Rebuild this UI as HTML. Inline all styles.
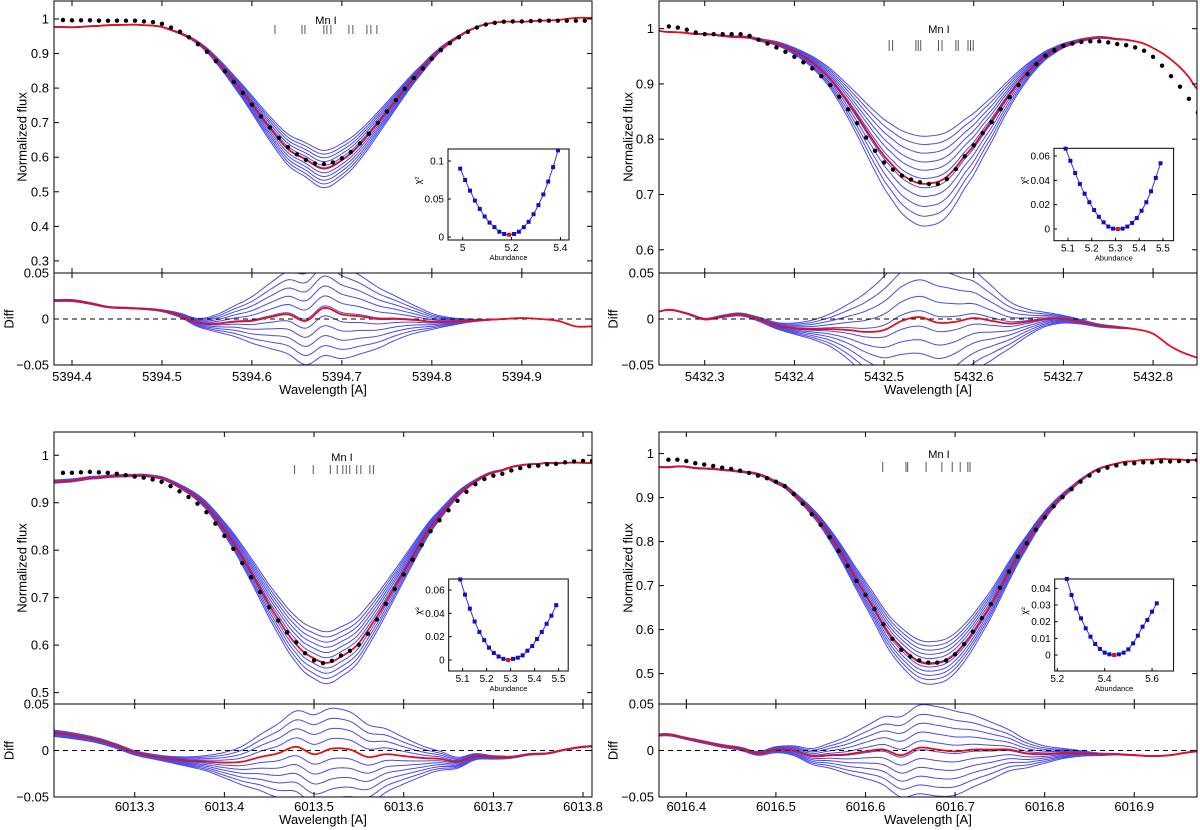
<!DOCTYPE html>
<html><head><meta charset="utf-8"><title>Mn I line fits</title>
<style>
html,body{margin:0;padding:0;background:#fff;}
svg{display:block;font-family:"Liberation Sans",Arial,sans-serif;}
</style></head>
<body>
<svg id="fig" xmlns="http://www.w3.org/2000/svg" width="1200" height="830" viewBox="0 0 1200 830">
<rect x="0" y="0" width="1200" height="830" fill="#fff"/>
</svg>
<script>
// ---------- DATA ----------
const obsTL = [0.997,0.996,0.996,0.996,0.995,0.995,0.995,0.995,0.995,0.993,0.991,0.986,0.975,0.963,0.947,0.927,0.905,0.878,0.849,0.818,0.786,0.752,0.718,0.686,0.656,0.629,0.608,0.592,0.582,0.580,0.585,0.597,0.615,0.640,0.668,0.699,0.732,0.765,0.798,0.829,0.857,0.885,0.910,0.930,0.947,0.963,0.975,0.984,0.989,0.992,0.993,0.993,0.994,0.995,0.995,0.995,0.995,0.995,0.995];
const residTL = [0.020,0.020,0.017,0.013,0.012,0.011,0.009,0.004,-0.004,-0.005,-0.003,-0.002,0.002,0.005,-0.002,0.012,0.005,0.003,0.000,0.000,-0.001,-0.003,-0.003,-0.002,-0.001,0.000,0.001,0.000,-0.002,-0.008,-0.008];
const scalesTL = [0.88,0.905,0.93,0.955,0.98,1.005,1.03,1.055,1.08,1.105,1.13];
const linesTL = [5394.6256,5394.6556,5394.6589,5394.68,5394.6833,5394.6878,5394.7078,5394.7122,5394.7278,5394.7322,5394.7389];
const chiTL = [0.090,0.075,0.061,0.048,0.037,0.027,0.019,0.013,0.007,0.004,0.003,0.004,0.007,0.013,0.020,0.030,0.042,0.056,0.073,0.092,0.114];
const xTickTL = ['5394.4','5394.5','5394.6','5394.7','5394.8','5394.9'];
const yTickTL = ['0.3','0.4','0.5','0.6','0.7','0.8','0.9','1'];

const obsTR = [1.004,1.002,0.998,0.993,0.990,0.990,0.990,0.990,0.990,0.987,0.980,0.973,0.966,0.958,0.949,0.939,0.928,0.914,0.898,0.877,0.854,0.829,0.803,0.779,0.758,0.745,0.734,0.727,0.722,0.719,0.719,0.728,0.746,0.769,0.789,0.811,0.831,0.854,0.876,0.898,0.918,0.936,0.951,0.961,0.969,0.973,0.976,0.977,0.977,0.975,0.972,0.970,0.966,0.960,0.949,0.933,0.914,0.895,0.873,0.848];
const residTR = [0.006,0.010,0.006,0.000,0.003,0.005,0.000,-0.007,-0.010,-0.011,-0.011,-0.012,-0.014,-0.012,-0.002,0.002,-0.004,-0.003,0.001,-0.002,-0.005,-0.003,0.000,0.000,-0.003,-0.007,-0.009,-0.011,-0.016,-0.030,-0.039,-0.044];
const scalesTR = [0.693,0.746,0.802,0.859,0.912,0.965,1.025,1.081,1.145,1.208,1.272];
const linesTR = [5432.5057,5432.5095,5432.5355,5432.5381,5432.5409,5432.5607,5432.5646,5432.5801,5432.5827,5432.5936,5432.5964,5432.5994];
const chiTR = [0.066,0.056,0.046,0.037,0.029,0.022,0.0156,0.010,0.0055,0.002,0.0003,0.0,0.0003,0.002,0.005,0.009,0.015,0.022,0.031,0.042,0.054];
const xTickTR = ['5432.3','5432.4','5432.5','5432.6','5432.7','5432.8'];
const yTickTR = ['0.6','0.7','0.8','0.9','1'];

const obsBL = [0.963,0.963,0.964,0.965,0.964,0.963,0.961,0.958,0.955,0.953,0.949,0.944,0.935,0.924,0.912,0.898,0.880,0.856,0.830,0.803,0.773,0.743,0.712,0.680,0.652,0.627,0.606,0.583,0.568,0.562,0.567,0.578,0.588,0.601,0.624,0.654,0.687,0.718,0.749,0.780,0.811,0.840,0.863,0.884,0.904,0.923,0.939,0.950,0.957,0.961,0.968,0.973,0.977,0.978,0.981,0.982,0.985,0.987,0.988,0.988];
const residBL = [0.020,0.018,0.015,0.011,0.005,-0.002,-0.006,-0.009,-0.011,-0.012,-0.013,-0.012,-0.007,-0.003,0.004,-0.004,0.002,0.001,-0.007,-0.004,-0.006,-0.008,-0.009,-0.012,-0.006,-0.007,-0.007,-0.004,-0.003,0.001,0.004,0.005];
const scalesBL = [0.85,0.875,0.90,0.925,0.95,0.975,1.0,1.025,1.05,1.075,1.10];
const linesBL = [6013.4783,6013.4991,6013.5182,6013.5259,6013.5321,6013.5359,6013.5398,6013.5476,6013.5522,6013.5623,6013.5662];
const chiBL = [0.069,0.056,0.044,0.033,0.024,0.017,0.0106,0.006,0.003,0.001,0.0,0.001,0.002,0.004,0.008,0.012,0.018,0.024,0.031,0.038,0.047];
const xTickBL = ['6013.3','6013.4','6013.5','6013.6','6013.7','6013.8'];
const yTickBL = ['0.5','0.6','0.7','0.8','0.9','1'];

const obsBR = [0.986,0.986,0.983,0.978,0.975,0.972,0.968,0.965,0.961,0.956,0.950,0.944,0.936,0.926,0.908,0.886,0.862,0.838,0.810,0.779,0.745,0.711,0.679,0.647,0.612,0.579,0.554,0.539,0.530,0.525,0.525,0.530,0.544,0.567,0.595,0.626,0.658,0.695,0.732,0.766,0.796,0.827,0.855,0.880,0.901,0.919,0.936,0.950,0.961,0.968,0.973,0.977,0.978,0.980,0.980,0.982,0.982,0.983,0.983,0.985];
const residBR = [0.016,0.017,0.013,0.009,0.005,0.002,-0.003,0.001,0.000,-0.006,-0.005,-0.004,-0.001,0.001,-0.005,0.003,0.001,-0.001,0.001,0.001,0.001,-0.003,-0.004,-0.003,-0.003,-0.004,-0.004,-0.005,-0.006,-0.005,-0.002,0.000];
const scalesBR = [0.895,0.915,0.935,0.955,0.975,0.995,1.015,1.035,1.055,1.075,1.097];
const linesBR = [6016.6192,6016.6452,6016.6471,6016.6676,6016.6852,6016.6968,6016.7057,6016.7142,6016.7166];
const chiBR = [0.0456,0.036,0.028,0.022,0.016,0.011,0.0066,0.0036,0.0014,0.0004,0.0,0.0004,0.0014,0.0034,0.007,0.0116,0.017,0.021,0.026,0.031];
const xTickBR = ['6016.4','6016.5','6016.6','6016.7','6016.8','6016.9'];
const yTickBR = ['0.5','0.6','0.7','0.8','0.9','1'];

const diffTickLabels = ['\u22120.05','0','0.05'];

// ---------- LAYOUT ----------
const panels = [
 {id:'tl', x0:54, x1:592, top:1, mid:273, bot:365, xmin:5394.38, xmax:5394.978, ymin:0.265, ymax:1.052,
  obs:obsTL, obsStart:5394.39, resid:residTL, residStart:5394.38, scales:scalesTL, cut:null, lines:linesTL,
  xt:xTickTL, yt:yTickTL, mnX:326, mnY:24, mnT:[25,34], ylabX:22, diffX:9, wlY:394, xtY:381,
  ins:{x0:448,x1:569,y0:149,y1:240,xmin:4.94,xmax:5.435,ymin:-0.0039,ymax:0.1158,a0:4.99,chi:chiTL,red:10,xt:['5','5.2','5.4'],yt:['0','0.05','0.1']}},
 {id:'tr', x0:659, x1:1197, top:1, mid:273, bot:365, xmin:5432.249, xmax:5432.849, ymin:0.558, ymax:1.050,
  obs:obsTR, obsStart:5432.26, resid:residTR, residStart:5432.24, scales:scalesTR, cut:[5432.74,5432.78], lines:linesTR,
  xt:xTickTR, yt:yTickTR, mnX:939, mnY:33, mnT:[40,51], ylabX:628, diffX:613, wlY:394, xtY:381,
  ins:{x0:1054,x1:1173.6,y0:148.3,y1:240.7,xmin:5.041,xmax:5.545,ymin:-0.0096,ymax:0.0663,a0:5.09,chi:chiTR,red:11,xt:['5.1','5.2','5.3','5.4','5.5'],yt:['0','0.02','0.04','0.06']}},
 {id:'bl', x0:54, x1:592, top:432, mid:704, bot:797, xmin:6013.210, xmax:6013.810, ymin:0.476, ymax:1.049,
  obs:obsBL, obsStart:6013.22, resid:residBL, residStart:6013.20, scales:scalesBL, cut:null, lines:linesBL,
  xt:xTickBL, yt:yTickBL, mnX:342, mnY:461, mnT:[465,474], ylabX:22, diffX:9, wlY:824, xtY:811,
  ins:{x0:448.7,x1:568.2,y0:579,y1:671,xmin:5.042,xmax:5.540,ymin:-0.0094,ymax:0.0694,a0:5.09,chi:chiBL,red:10,xt:['5.1','5.2','5.3','5.4','5.5'],yt:['0','0.02','0.04','0.06']}},
 {id:'br', x0:659, x1:1197, top:432, mid:704, bot:797, xmin:6016.3695, xmax:6016.970, ymin:0.431, ymax:1.049,
  obs:obsBR, obsStart:6016.38, resid:residBR, residStart:6016.36, scales:scalesBR, cut:null, lines:linesBR,
  xt:xTickBR, yt:yTickBR, mnX:939, mnY:458, mnT:[462,472], ylabX:628, diffX:613, wlY:824, xtY:811,
  ins:{x0:1054.7,x1:1173.6,y0:579,y1:671,xmin:5.189,xmax:5.691,ymin:-0.0096,ymax:0.0456,a0:5.24,chi:chiBR,red:10,xt:['5.2','5.4','5.6'],yt:['0','0.01','0.02','0.03','0.04']}}
];

const NS = 'http://www.w3.org/2000/svg';
const svg = document.getElementById('fig');
function mk(tag, attrs, parent){
  const e = document.createElementNS(NS, tag);
  for (const k in attrs) e.setAttribute(k, attrs[k]);
  parent.appendChild(e);
  return e;
}
function cr(arr, start, step, l){
  const n = arr.length;
  let t = (l - start) / step;
  if (t <= 0) return arr[0];
  if (t >= n - 1) return arr[n - 1];
  let i = Math.floor(t); const f = t - i;
  const p0 = arr[Math.max(i - 1, 0)], p1 = arr[i], p2 = arr[i + 1], p3 = arr[Math.min(i + 2, n - 1)];
  return 0.5 * (2 * p1 + (-p0 + p2) * f + (2 * p0 - 5 * p1 + 4 * p2 - p3) * f * f + (-p0 + 3 * p1 - 3 * p2 + p3) * f * f * f);
}
function pathOf(pts){ return 'M' + pts.map(p => p[0].toFixed(2) + ',' + p[1].toFixed(2)).join(' L'); }

panels.forEach(P => {
  const g = mk('g', {}, svg);
  
  
  const sx = l => P.x0 + (l - P.xmin) / (P.xmax - P.xmin) * (P.x1 - P.x0);
  const sy = v => P.top + (P.ymax - v) / (P.ymax - P.ymin) * (P.mid - P.top);
  const sd = v => P.mid + (0.05 - v) / 0.1 * (P.bot - P.mid);

  const defs = mk('defs', {}, g);
  const c1 = mk('clipPath', {id: 'cm' + P.id}, defs);
  mk('rect', {x: P.x0, y: P.top, width: P.x1 - P.x0, height: P.mid - P.top}, c1);
  const c2 = mk('clipPath', {id: 'cd' + P.id}, defs);
  mk('rect', {x: P.x0, y: P.mid, width: P.x1 - P.x0, height: P.bot - P.mid}, c2);

  const N = 300, lam = [], obsV = [], redV = [];
  for (let i = 0; i <= N; i++){
    const l = P.xmin + (P.xmax - P.xmin) * i / N;
    lam.push(l);
    const o = cr(P.obs, P.obsStart, 0.01, l);
    obsV.push(o);
    redV.push(o - cr(P.resid, P.residStart, 0.02, l));
  }
  const minRed = Math.min.apply(null, redV.filter((v, i) => !P.cut || lam[i] < P.cut[0]));
  const w = l => { if (!P.cut) return 1; if (l <= P.cut[0]) return 1; if (l >= P.cut[1]) return 0; return 1 - (l - P.cut[0]) / (P.cut[1] - P.cut[0]); };

  const gm = mk('g', {'clip-path': 'url(#cm' + P.id + ')'}, g);
  
  
  const gd = mk('g', {'clip-path': 'url(#cd' + P.id + ')'}, g);
  
  

  P.scales.forEach(s => {
    const pm = [], pd = [];
    lam.forEach((l, i) => {
      const depth = Math.max(0, 1 - redV[i]);
      const r = Math.min(1, depth / (1 - minRed));
      const b = redV[i] - (s - 1) * depth * Math.pow(r, 0.35) * w(l);
      pm.push([sx(l), sy(b)]);
      pd.push([sx(l), sd(obsV[i] - b)]);
    });
    const bm = mk('path', {d: pathOf(pm), fill: 'none', stroke: '#4a4ae8', 'stroke-width': 1}, gm);
    
    
    const bd = mk('path', {d: pathOf(pd), fill: 'none', stroke: '#4a4ae8', 'stroke-width': 1}, gd);
    
    
  });

  const zero = mk('line', {x1: P.x0, x2: P.x1, y1: sd(0), y2: sd(0), stroke: '#000', 'stroke-width': 1, 'stroke-dasharray': '5,4'}, gd);
  
  

  const rm = mk('path', {d: pathOf(lam.map((l, i) => [sx(l), sy(redV[i])])), fill: 'none', stroke: '#e0101e', 'stroke-width': 1.8}, gm);
  
  
  const rd = mk('path', {d: pathOf(lam.map((l, i) => [sx(l), sd(obsV[i] - redV[i])])), fill: 'none', stroke: '#e0101e', 'stroke-width': 1.8}, gd);
  
  

  P.obs.forEach((v, i) => {
    const l = P.obsStart + 0.01 * i;
    const c = mk('circle', {cx: sx(l), cy: sy(v), r: 2.2, fill: '#000'}, gm);
    
    
  });

  const mn = mk('text', {x: P.mnX, y: P.mnY, 'font-size': 11, 'text-anchor': 'middle', fill: '#000'}, g);
  mn.textContent = 'Mn I';
  
  
  P.lines.forEach(l => {
    const t = mk('line', {x1: sx(l), x2: sx(l), y1: P.mnT[0], y2: P.mnT[1], stroke: '#555', 'stroke-width': 1}, g);
    
    
  });

  const f1 = mk('rect', {x: P.x0, y: P.top, width: P.x1 - P.x0, height: P.mid - P.top, fill: 'none', stroke: '#000', 'stroke-width': 1}, g);
  
  
  const f2 = mk('rect', {x: P.x0, y: P.mid, width: P.x1 - P.x0, height: P.bot - P.mid, fill: 'none', stroke: '#000', 'stroke-width': 1}, g);
  
  

  P.xt.forEach(lbl => {
    const x = sx(parseFloat(lbl));
    [[P.top, 1], [P.mid, -1], [P.mid, 1], [P.bot, -1]].forEach(([y, d]) => {
      const t = mk('line', {x1: x, x2: x, y1: y, y2: y + 5 * d, stroke: '#000', 'stroke-width': 1}, g);
      
      
    });
    const tx = mk('text', {x: x, y: P.xtY, 'font-size': 13, 'text-anchor': 'middle', fill: '#000'}, g);
    tx.textContent = lbl;
    
    
  });
  P.yt.forEach(lbl => {
    const y = sy(parseFloat(lbl));
    [[P.x0, 1], [P.x1, -1]].forEach(([x, d]) => {
      const t = mk('line', {x1: x, x2: x + 5 * d, y1: y, y2: y, stroke: '#000', 'stroke-width': 1}, g);
      
      
    });
    const tx = mk('text', {x: P.x0 - 5, y: y + 4.5, 'font-size': 13, 'text-anchor': 'end', fill: '#000'}, g);
    tx.textContent = lbl;
    
    
  });
  diffTickLabels.forEach((lbl, i) => {
    const y = sd([-0.05, 0, 0.05][i]);
    [[P.x0, 1], [P.x1, -1]].forEach(([x, d]) => {
      const t = mk('line', {x1: x, x2: x + 5 * d, y1: y, y2: y, stroke: '#000', 'stroke-width': 1}, g);
      
      
    });
    const tx = mk('text', {x: P.x0 - 5, y: y + 4.5, 'font-size': 13, 'text-anchor': 'end', fill: '#000'}, g);
    tx.textContent = lbl;
    
    
  });

  const cy = (P.top + P.mid) / 2;
  const yl = mk('text', {x: P.ylabX, y: cy, 'font-size': 13, 'text-anchor': 'middle', transform: 'rotate(-90 ' + (P.ylabX) + ' ' + cy + ')', dy: 4.5, fill: '#000'}, g);
  yl.textContent = 'Normalized flux';
  
  
  const dcy = (P.mid + P.bot) / 2;
  const dl = mk('text', {x: P.diffX, y: dcy, 'font-size': 13, 'text-anchor': 'middle', transform: 'rotate(-90 ' + P.diffX + ' ' + dcy + ')', dy: 4.5, fill: '#000'}, g);
  dl.textContent = 'Diff';
  
  
  const wl = mk('text', {x: (P.x0 + P.x1) / 2, y: P.wlY, 'font-size': 13, 'text-anchor': 'middle', fill: '#000'}, g);
  wl.textContent = 'Wavelength [A]';
  
  

  const I = P.ins;
  const ix = a => I.x0 + (a - I.xmin) / (I.xmax - I.xmin) * (I.x1 - I.x0);
  const iy = v => I.y0 + (I.ymax - v) / (I.ymax - I.ymin) * (I.y1 - I.y0);
  const gi = mk('g', {}, g);
  
  
  const ib = mk('rect', {x: I.x0, y: I.y0, width: I.x1 - I.x0, height: I.y1 - I.y0, fill: '#fff', stroke: '#000', 'stroke-width': 1}, gi);
  
  
  const ipts = I.chi.map((c, i) => [ix(I.a0 + 0.02 * i), iy(c)]);
  const il = mk('path', {d: pathOf(ipts), fill: 'none', stroke: '#3535d8', 'stroke-width': 1}, gi);
  
  
  ipts.forEach((p, i) => {
    const m = mk('rect', {x: p[0] - 2, y: p[1] - 2, width: 4, height: 4, fill: i === I.red ? '#e01010' : '#1010c0'}, gi);
    
    
  });
  I.xt.forEach(lbl => {
    const x = ix(parseFloat(lbl));
    const t = mk('line', {x1: x, x2: x, y1: I.y1, y2: I.y1 - 3, stroke: '#000', 'stroke-width': 1}, gi);
    
    
    const tx = mk('text', {x: x, y: I.y1 + 11, 'font-size': 10, 'text-anchor': 'middle', fill: '#000'}, gi);
    tx.textContent = lbl;
    
    
  });
  I.yt.forEach(lbl => {
    const y = iy(parseFloat(lbl));
    const t = mk('line', {x1: I.x0, x2: I.x0 + 3, y1: y, y2: y, stroke: '#000', 'stroke-width': 1}, gi);
    
    
    const tx = mk('text', {x: I.x0 - 4, y: y + 3.5, 'font-size': 10, 'text-anchor': 'end', fill: '#000'}, gi);
    tx.textContent = lbl;
    
    
  });
  const ab = mk('text', {x: (I.x0 + I.x1) / 2, y: I.y1 + 20, 'font-size': 7.5, 'text-anchor': 'middle', fill: '#000'}, gi);
  ab.textContent = 'Abundance';
  
  
  const chx = I.x0 - 30, chy = (I.y0 + I.y1) / 2 - 14;
  const ch = mk('text', {x: chx, y: chy, 'font-size': 9, 'text-anchor': 'middle', transform: 'rotate(-90 ' + chx + ' ' + chy + ')', dy: 3, fill: '#000'}, gi);
  ch.textContent = 'χ²';
  
  
});
</script>
</body></html>
